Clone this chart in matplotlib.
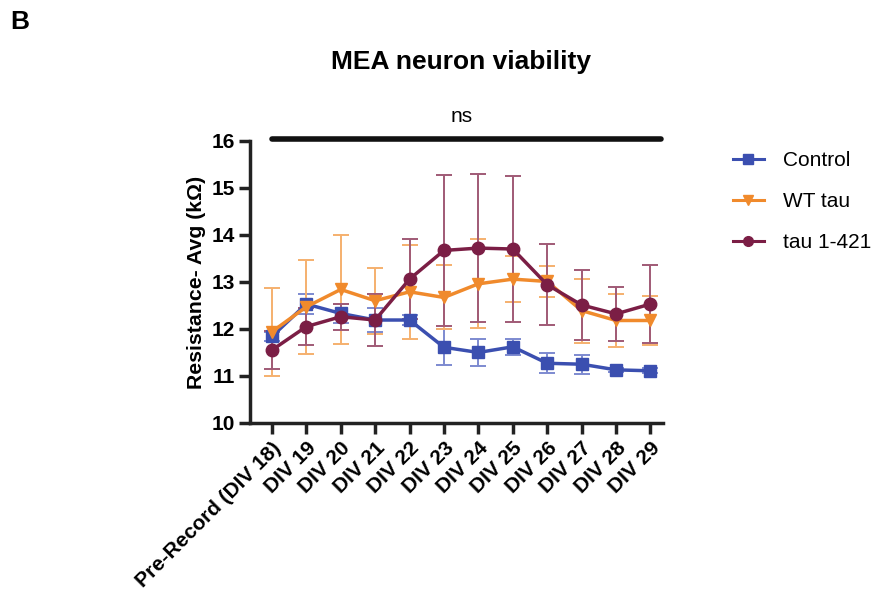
import matplotlib
matplotlib.use("Agg")
import matplotlib.pyplot as plt
from matplotlib.lines import Line2D
import numpy as np

plt.rcParams['font.family'] = ['Liberation Sans', 'DejaVu Sans']

days = ['Pre-Record (DIV 18)', 'DIV 19', 'DIV 20', 'DIV 21', 'DIV 22', 'DIV 23',
        'DIV 24', 'DIV 25', 'DIV 26', 'DIV 27', 'DIV 28', 'DIV 29']

control = [11.84, 12.53, 12.33, 12.19, 12.19, 11.61, 11.50, 11.62, 11.27, 11.25, 11.13, 11.11]
control_err = [0.10, 0.22, 0.20, 0.25, 0.10, 0.38, 0.28, 0.17, 0.21, 0.20, 0.05, 0.05]

wt_tau = [11.94, 12.47, 12.84, 12.60, 12.79, 12.67, 12.96, 13.06, 13.01, 12.39, 12.18, 12.18]
wt_err = [0.94, 1.00, 1.15, 0.70, 1.00, 0.68, 0.95, 0.49, 0.33, 0.68, 0.56, 0.52]

tau421 = [11.55, 12.05, 12.26, 12.19, 13.06, 13.67, 13.72, 13.70, 12.94, 12.51, 12.32, 12.53]
tau421_err = [0.40, 0.40, 0.28, 0.56, 0.85, 1.60, 1.57, 1.55, 0.86, 0.75, 0.57, 0.82]

x = np.arange(len(days))

fig = plt.figure(figsize=(8.81, 5.92), dpi=100)
ax = fig.add_axes([0.284, 0.2855, 0.468, 0.4765])

series = [
    ('Control', control, control_err, '#3b4fb0', '#7d8ad0', 's', 8),
    ('WT tau', wt_tau, wt_err, '#f08a2c', '#f5b06e', 'v', 8),
    ('tau 1-421', tau421, tau421_err, '#7b1e45', '#a05a76', 'o', 9),
]
handles = []
for label, vals, err, col, ecol, mk, ms in series:
    ax.errorbar(x, vals, yerr=err, color=col, ecolor=ecol, elinewidth=1.4,
                capsize=6, capthick=1.4, marker=mk, markersize=ms,
                linewidth=2.5)
    handles.append(Line2D([], [], color=col, marker=mk, markersize=7,
                          linewidth=2.2, label=label))

ax.set_ylim(10, 16)
ax.set_xlim(-0.63, 11.35)
ax.set_yticks(range(10, 17))
ax.set_xticks(x)
ax.set_xticklabels(days, rotation=45, ha='right', rotation_mode='anchor',
                   fontweight='bold', fontsize=15)
for t in ax.get_yticklabels():
    t.set_fontweight('bold')
    t.set_fontsize(15)
ax.set_ylabel('Resistance- Avg (kΩ)', fontweight='bold', fontsize=15.3)

for s in ['top', 'right']:
    ax.spines[s].set_visible(False)
for s in ['left', 'bottom']:
    ax.spines[s].set_linewidth(2.5)
    ax.spines[s].set_color('#222222')
ax.tick_params(width=2.5, length=8, color='#222222', pad=3)

# ns bar
ax.plot([0, 11.3], [16.05, 16.05], color='#111111', linewidth=4,
        solid_capstyle='round', clip_on=False)
ax.text(5.5, 16.32, 'ns', ha='center', va='bottom', fontsize=15)

fig.text(0.523, 0.895, 'MEA neuron viability', ha='center', va='center',
         fontweight='bold', fontsize=19)
fig.text(0.012, 0.962, 'B', ha='left', va='center', fontweight='bold', fontsize=19)

ax.legend(handles=handles, loc='upper left', bbox_to_anchor=(1.125, 1.03),
          frameon=False, fontsize=15, handlelength=1.5, handletextpad=0.9,
          labelspacing=1.05)

fig.savefig('out.png', dpi=100)
